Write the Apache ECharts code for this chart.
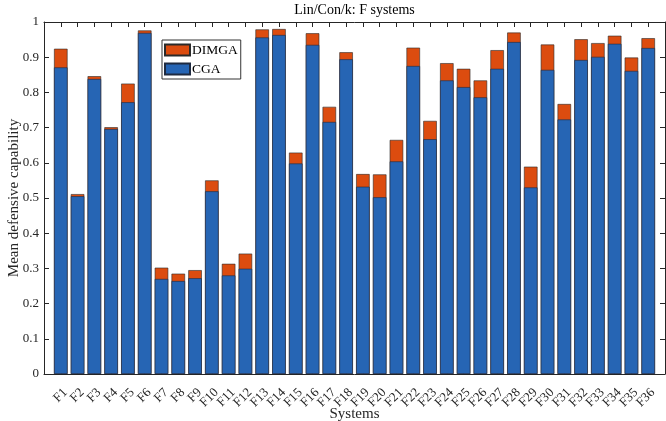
<!DOCTYPE html>
<html>
<head>
<meta charset="utf-8">
<script src="https://cdn.jsdelivr.net/npm/echarts@6/dist/echarts.min.js"></script>
<style>
html,body{margin:0;padding:0;background:#fff;}
#chart{width:666px;height:421px;}
</style>
</head>
<body>
<div id="chart"></div>
<script>
const categories = ['F1','F2','F3','F4','F5','F6','F7','F8','F9','F10','F11','F12','F13','F14','F15','F16','F17','F18','F19','F20','F21','F22','F23','F24','F25','F26','F27','F28','F29','F30','F31','F32','F33','F34','F35','F36'];
// CGA values (lower blue segment top)
const cgaValues = [0.871,0.505,0.838,0.696,0.772,0.969,0.270,0.264,0.272,0.519,0.280,0.299,0.956,0.963,0.598,0.935,0.716,0.894,0.532,0.502,0.604,0.875,0.667,0.834,0.815,0.786,0.867,0.943,0.530,0.864,0.723,0.892,0.901,0.938,0.861,0.926];
// DIMGA values (top of orange segment)
const dimgaValues = [0.924,0.511,0.846,0.701,0.825,0.976,0.302,0.285,0.295,0.550,0.313,0.342,0.979,0.980,0.629,0.968,0.759,0.914,0.568,0.567,0.665,0.927,0.719,0.883,0.867,0.834,0.920,0.970,0.589,0.936,0.767,0.951,0.940,0.961,0.899,0.954];
const yTicks = ['0','0.1','0.2','0.3','0.4','0.5','0.6','0.7','0.8','0.9','1'];

const font = '"Liberation Serif", "Times New Roman", serif';
const axisColor = '#262626';

const chart = echarts.init(document.getElementById('chart'), null, {renderer:'canvas'});
const toPairs = arr => arr.map((v,i)=>[i+1, v]);

chart.setOption({
  animation:false,
  backgroundColor:'#fff',
  title:{
    text:'Lin/Con/k: F systems',
    left:354.5, top:3, textAlign:'center', padding:0,
    textStyle:{fontFamily:font, fontSize:14, fontWeight:'normal', color:'#000'}
  },
  legend:{
    orient:'vertical', left:162, top:40,
    data:['DIMGA','CGA'],
    itemWidth:25, itemHeight:11, itemGap:5,
    padding:[3,3,3,2],
    borderColor:'#333', borderWidth:1,
    backgroundColor:'#fff',
    icon:'rect',
    textStyle:{fontFamily:font, fontSize:13.5, color:'#000', padding:[0,0,0,-3]}
  },
  grid:{left:44, right:1, top:22, bottom:47, containLabel:false, outerBoundsMode:'none'},
  xAxis:[{
    type:'value', min:0, max:37, interval:1,
    name:'Systems', nameLocation:'middle', nameGap:33, nameMoveOverlap:false,
    nameTextStyle:{fontFamily:font, fontSize:15, color:axisColor},
    axisLine:{show:true, onZero:false, lineStyle:{color:axisColor, width:1}},
    axisTick:{show:true, inside:true, length:5, lineStyle:{color:axisColor}},
    axisLabel:{
      rotate:45, margin:12, verticalAlign:'top', fontFamily:font, fontSize:13, color:axisColor,
      formatter: v => (v>=1 && v<=categories.length) ? categories[v-1] : ''
    },
    splitLine:{show:false}
  },{
    type:'value', min:0, max:37, interval:1, position:'top',
    axisLine:{show:true, onZero:false, lineStyle:{color:axisColor, width:1}},
    axisTick:{show:true, inside:true, length:5, lineStyle:{color:axisColor}},
    axisLabel:{show:false}, splitLine:{show:false}
  }],
  yAxis:[{
    type:'value', min:0, max:1, interval:0.1,
    name:'Mean defensive capability', nameLocation:'middle', nameGap:22, nameRotate:90, nameMoveOverlap:false,
    nameTextStyle:{fontFamily:font, fontSize:15, color:axisColor},
    axisLine:{show:true, onZero:false, lineStyle:{color:axisColor, width:1}},
    axisTick:{show:true, inside:true, length:5, lineStyle:{color:axisColor}},
    axisLabel:{margin:5, fontFamily:font, fontSize:13, color:axisColor,
      formatter: v => yTicks[Math.round(v*10)]},
    splitLine:{show:false}
  },{
    type:'value', min:0, max:1, interval:0.1, position:'right',
    axisLine:{show:true, onZero:false, lineStyle:{color:axisColor, width:1}},
    axisTick:{show:true, inside:true, length:5, lineStyle:{color:axisColor}},
    axisLabel:{show:false}, splitLine:{show:false}
  }],
  series:[{
    name:'DIMGA', type:'bar', xAxisIndex:0, yAxisIndex:0,
    data: toPairs(dimgaValues), barWidth:13.5, barGap:'-100%',
    itemStyle:{color:'#DC4C0F', borderColor:'#2a2a2a', borderWidth:0.6}
  },{
    name:'CGA', type:'bar', xAxisIndex:0, yAxisIndex:0,
    data: toPairs(cgaValues), barWidth:13.5, barGap:'-100%',
    itemStyle:{color:'#2665B4', borderColor:'#1e2a40', borderWidth:0.6}
  }]
});
</script>
</body>
</html>
